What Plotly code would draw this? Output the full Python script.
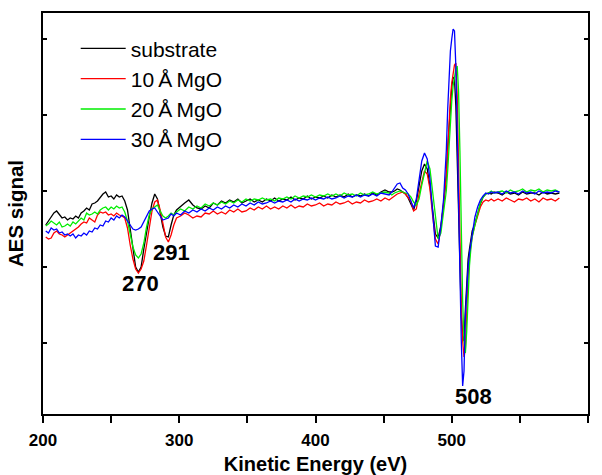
import plotly.graph_objects as go

energy = (list(range(202, 299, 2)) + list(range(301, 455, 3)) + list(range(456, 497, 2))
          + list(range(497, 516)) + list(range(517, 532, 2)) + list(range(534, 580, 3)))

# AES signal (arbitrary units)
substrate = ([-34, -30, -26, -22, -20, -23, -27, -26, -29, -27,
              -28, -25, -27, -22, -20, -17, -19, -13, -12, -10,
              -6, -3, -1, -6, -5, -8, -4, -6, -5, -10,
              -19, -38, -60, -76, -81, -76, -58, -40, -26, -12,
              -3, -8, -22, -36, -45, -46, -34, -24, -19]
             + [-15, -12, -9, -14, -17, -18, -15, -17, -12, -14,
                -10, -12, -9, -11, -8, -12, -10, -8, -11, -9,
                -11, -8, -10, -7, -10, -8, -9, -6, -9, -7,
                -8, -5, -8, -6, -7, -5, -7, -4, -6, -4,
                -6, -3, -6, -4, -5, -3, -5, -2, -4, -1,
                1, -1]
             + [-1, 0, 2, 1, -1, -3, -7, -14, -19, -10, 4, 20, 27, 22, 5, -22, -43, -47, -35, -14, 15]
             + [42, 65, 88, 104, 114, 112, 85, 30, -30, -85, -125, -145, -150, -118, -85, -68, -58, -48, -40]
             + [-33, -22, -13, -6, -3, -2, -3, -1]
             + [-2, -4, -1, -3, -2, -4, -1, -3, -2, -2, -4, -1, -3, -2, -3, -2])

mgo_10 = ([-46, -48, -47, -42, -40, -43, -44, -46, -44, -42,
           -40, -38, -36, -33, -31, -32, -27, -29, -31, -24,
           -21, -22, -21, -24, -23, -25, -22, -24, -25, -27,
           -37, -54, -68, -78, -82, -78, -70, -54, -36, -20,
           -11, -9, -19, -34, -46, -51, -44, -34, -27]
          + [-25, -22, -24, -27, -25, -26, -22, -23, -20, -23,
             -21, -23, -19, -21, -18, -21, -20, -17, -19, -16,
             -18, -15, -18, -16, -18, -15, -17, -14, -17, -15,
             -16, -13, -15, -14, -12, -15, -13, -14, -11, -13,
             -12, -10, -13, -11, -12, -9, -11, -10, -8, -10,
             -7, -9]
          + [-7, -5, -3, -2, -1, -3, -6, -10, -20, -18, -3, 10, 20, 17, 2, -25, -48, -53, -38, -12, 15]
          + [40, 68, 92, 108, 118, 126, 128, 95, 25, -55, -115, -150, -166, -158, -120, -85, -66, -54, -45]
          + [-34, -24, -16, -11, -9, -10, -8, -10]
          + [-8, -10, -7, -9, -11, -8, -9, -7, -10, -8, -11, -7, -9, -8, -10, -7])

mgo_20 = ([-35, -33, -30, -32, -34, -31, -36, -35, -33, -35,
           -31, -33, -30, -27, -29, -22, -24, -23, -21, -23,
           -19, -17, -16, -19, -16, -18, -15, -17, -16, -21,
           -30, -44, -56, -64, -67, -63, -52, -36, -24, -18,
           -16, -14, -20, -25, -27, -25, -22, -24, -21]
          + [-18, -20, -16, -18, -15, -17, -13, -15, -12, -14,
             -11, -13, -10, -12, -9, -11, -8, -10, -8, -9,
             -7, -9, -8, -10, -7, -8, -6, -8, -5, -7,
             -5, -6, -4, -6, -4, -5, -3, -5, -3, -5,
             -2, -4, -3, -5, -2, -4, -3, -1, -3, -2,
             -1, -2]
          + [-4, -2, -1, 0, -1, -2, -3, -6, -11, -14, -8, 6, 18, 30, 22, -2, -30, -48, -42, -20, 0]
          + [20, 45, 70, 90, 105, 115, 122, 125, 100, 40, -40, -110, -150, -162, -140, -100, -75, -58, -46]
          + [-34, -22, -12, -6, -3, -2, 0, -2]
          + [-1, 0, -2, 1, -1, 0, 2, -1, 1, 0, 2, -1, 1, 0, 1, -1])

mgo_30 = ([-40, -42, -37, -39, -38, -42, -41, -44, -43, -45,
           -43, -47, -44, -45, -42, -44, -40, -41, -37, -38,
           -34, -35, -30, -31, -27, -29, -25, -27, -24, -26,
           -30, -34, -38, -39, -38, -36, -31, -25, -20, -18,
           -17, -21, -25, -29, -28, -27, -23, -25, -22]
          + [-24, -20, -22, -19, -21, -18, -20, -17, -19, -16,
             -18, -15, -17, -14, -16, -13, -15, -12, -14, -11,
             -13, -12, -10, -12, -10, -11, -9, -11, -8, -10,
             -8, -9, -7, -9, -7, -8, -6, -8, -7, -5,
             -7, -5, -6, -4, -6, -4, -5, -3, -5, -2,
             -3, -4]
          + [-1, 3, 7, 8, 3, 1, -3, -10, -17, -8, 10, 30, 38, 32, 12, -22, -55, -56, -35, -8, 40]
          + [81, 118, 140, 152, 162, 160, 125, 60, -20, -90, -150, -195, -180, -125, -95, -76, -62, -52, -42]
          + [-26, -16, -9, -5, -2, -3, -1, -2]
          + [-1, -3, 0, -2, -1, -3, 0, -2, -1, -3, 0, -2, -1, -2, 0, -1])

series_names = ["substrate", "10\u2009Å\u2009MgO", "20\u2009Å\u2009MgO", "30\u2009Å\u2009MgO"]
series_colors = ["#000000", "#ff0000", "#00ee00", "#0000ff"]

# x ticks every 50 eV, labelled every 100 eV
x_ticks = [200, 250, 300, 350, 400, 450, 500, 550, 600]
x_ticklabels = ["200", "", "300", "", "400", "", "500", "", "600"]

# labelled peaks: (energy, value at minimum, x offset px)
peak_labels = [(270, -82, 2), (291, -51, 5), (508, -195, 11)]

FONT = "Liberation Sans, Arial, sans-serif"

fig = go.Figure()
for i, (name, col, ys) in enumerate(zip(series_names, series_colors,
                                         [substrate, mgo_10, mgo_20, mgo_30])):
    fig.add_trace(go.Scatter(x=energy, y=ys, mode="lines", name=name,
                             legendgroup=str(i),
                             line=dict(color=col, width=1.3)))

for e, v, dx in peak_labels:
    fig.add_annotation(x=e, y=v, text=str(e), showarrow=False, xshift=dx, yshift=4,
                       yanchor="top", font=dict(family=FONT, size=22, color="black", weight="bold"))

fig.update_layout(
    width=602, height=475,
    margin=dict(l=43, r=14, t=13, b=61),
    paper_bgcolor="white", plot_bgcolor="white",
    font=dict(family=FONT, color="black"),
    hovermode=False,
    showlegend=True,
    legend=dict(x=0.06, y=0.962, xanchor="left", yanchor="top",
                bgcolor="rgba(0,0,0,0)", font=dict(family=FONT, size=21),
                itemwidth=45, tracegroupgap=0),
    xaxis=dict(range=[200, 600], tickvals=x_ticks, ticktext=x_ticklabels, automargin=False,
               ticks="outside", ticklen=7, tickwidth=1.5, tickcolor="black",
               ticklabelstandoff=3,
               showline=True, linewidth=1.5, linecolor="black", mirror=True,
               showgrid=False, zeroline=False,
               tickfont=dict(family=FONT, size=17, weight="bold"),
               title=dict(text="Kinetic Energy (eV)", standoff=14,
                          font=dict(family=FONT, size=20, weight="bold"))),
    xaxis2=dict(range=[200, 600], overlaying="x", side="top", anchor="y", automargin=False,
                tickvals=x_ticks,
                ticks="inside", ticklen=4, tickwidth=1.5, tickcolor="black",
                showticklabels=False, showline=True, linewidth=1.5, linecolor="black",
                showgrid=False, zeroline=False),
    yaxis=dict(range=[-223, 178], tickvals=[-152, -76, 0, 76, 152], automargin=False,
               ticks="inside", ticklen=4, tickwidth=1.5, tickcolor="black",
               showticklabels=False, showline=True, linewidth=1.5, linecolor="black",
               mirror="allticks", showgrid=False, zeroline=False,
               title=dict(text="AES signal", standoff=12,
                          font=dict(family=FONT, size=20.5, weight="bold"))),
)

fig.write_html("out.html", config={"displayModeBar": False},
               post_script="document.body.style.margin='0px';")
